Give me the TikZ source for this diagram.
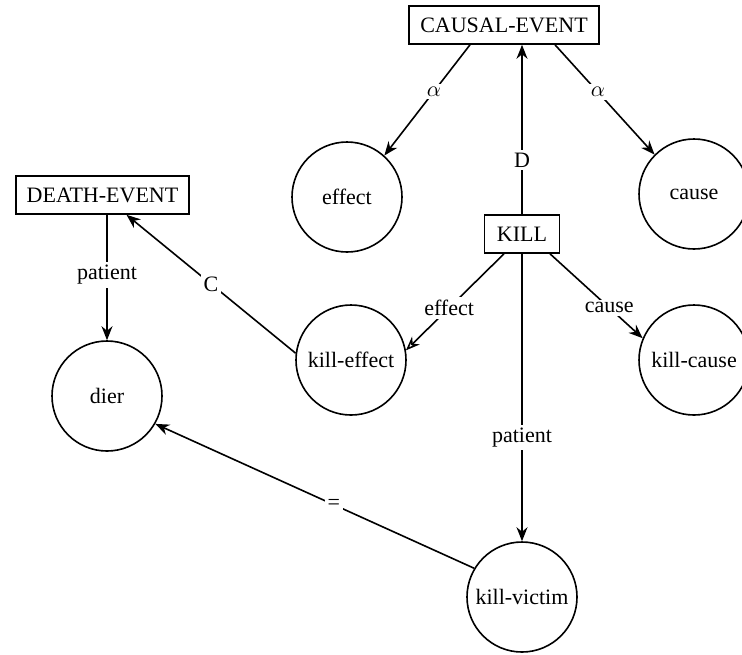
\documentclass[tikz,border=0pt]{standalone}
\usepackage{fontspec}
\setmainfont{Liberation Serif}
\usetikzlibrary{arrows.meta}
\tikzset{>={Stealth[length=7pt,width=5.5pt]}}
\tikzset{
    frame/.style={draw, line width=0.8pt, minimum height=19pt, inner xsep=5.5pt, font=\fontsize{11}{13}\selectfont},
    role/.style={draw, circle, line width=0.8pt, minimum size=55pt, inner sep=0pt, font=\fontsize{11}{13}\selectfont},
    lab/.style={fill=white, inner sep=1.5pt, font=\fontsize{11}{13}\selectfont}
}

\begin{document}
\begin{tikzpicture}[x=0.5pt, y=-0.5pt, line width=0.8pt]
    \useasboundingbox (0,0) rectangle (742,654);
    % frames
    \node[frame] (causal) at (504,25) {CAUSAL-EVENT};
    \node[frame] (death) at (102.5,195) {DEATH-EVENT};
    \node[frame, minimum width=37.5pt] (kill) at (522,234) {KILL};
    % roles
    \node[role] (effect) at (347,197) {effect};
    \node[role] (cause) at (694,194) {cause};
    \node[role] (killeffect) at (351,360) {kill-effect};
    \node[role] (killcause) at (694,360) {kill-cause};
    \node[role] (dier) at (107,396) {dier};
    \node[role] (victim) at (522,597) {kill-victim};
    % links
    \draw[->] ([xshift=-17pt]causal.south) -- node[lab, pos=0.42] {$\alpha$} (effect.48);
    \draw[->] ([xshift=25.5pt]causal.south) -- node[lab, pos=0.43] {$\alpha$} (cause.135);
    \draw[->] (kill.north) -- node[lab, pos=0.32] {D} (kill.north |- causal.south);
    \draw[-{Stealth[open,length=7pt,width=5.5pt]}] ([xshift=-9pt]kill.south) -- node[lab, pos=0.56] {effect} (killeffect.10);
    \draw[->] ([xshift=14pt]kill.south) -- node[lab, pos=0.64] {cause} (killcause.157);
    \draw[->] (kill.south) -- node[lab, pos=0.64] {patient} (victim.north);
    \draw[->] (dier.north |- death.south) -- node[lab, pos=0.48] {patient} (dier.north);
    \draw[->] (killeffect.173) -- node[lab, pos=0.5] {C} ([xshift=12pt]death.south);
    \draw[->] (victim.149) -- node[lab, pos=0.44] {=} (dier.330);
\end{tikzpicture}
\end{document}
